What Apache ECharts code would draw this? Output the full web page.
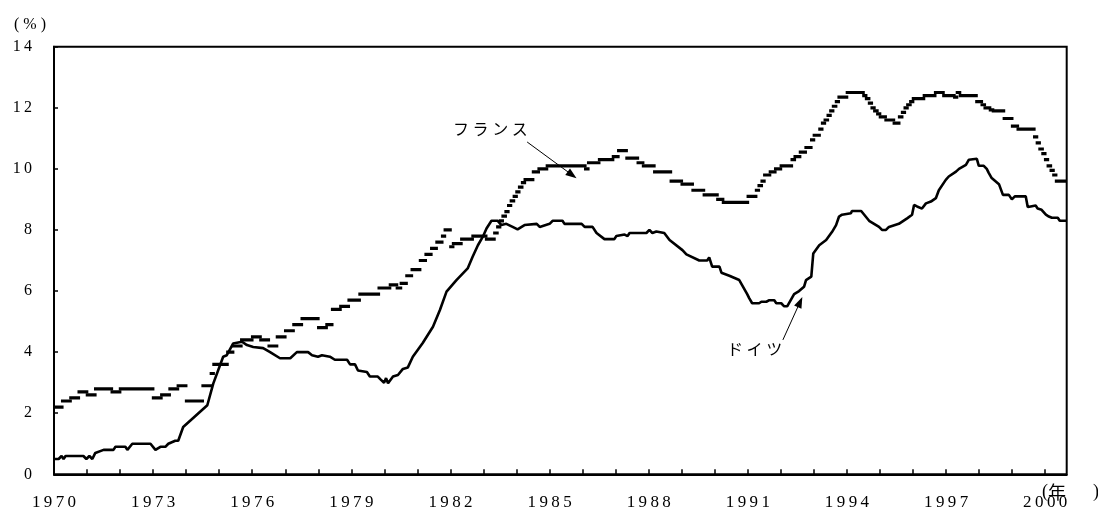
<!DOCTYPE html>
<html><head><meta charset="utf-8">
<script src="https://cdn.jsdelivr.net/npm/echarts@6/dist/echarts.min.js"></script>
<style>html,body{margin:0;padding:0;background:#fff}#c{width:1098px;height:511px}</style>
</head><body><div id="c"></div>
<script>
// ---- axis settings ----
const xMin = 1970, xMax = 2000.65;
const yMin = 0, yMax = 14, yStep = 2;
const labelEveryYears = 3;

// ---- Germany (ドイツ): solid line, [year, %] vertices ----
const germanyYears = [
 1970.00,1970.14,1970.23,1970.29,1970.35,1970.89,1970.98,1971.07,1971.16,1971.25,
 1971.50,1971.80,1971.86,1972.16,1972.22,1972.37,1972.92,1973.07,1973.22,1973.37,
 1973.46,1973.67,1973.76,1973.91,1974.64,1974.82,1975.12,1975.23,1975.42,1975.69,
 1975.84,1976.03,1976.33,1976.54,1976.84,1977.15,1977.35,1977.69,1977.81,1977.99,
 1978.11,1978.35,1978.50,1978.87,1978.96,1979.11,1979.20,1979.47,1979.56,1979.80,
 1979.89,1979.99,1980.05,1980.11,1980.26,1980.41,1980.56,1980.71,1980.86,1981.16,
 1981.47,1981.68,1981.88,1982.18,1982.52,1982.67,1982.83,1982.98,1983.09,1983.24,
 1983.43,1983.54,1983.69,1983.88,1984.03,1984.24,1984.61,1984.70,1985.00,1985.09,
 1985.39,1985.45,1985.97,1986.06,1986.30,1986.42,1986.66,1986.96,1987.02,1987.27,
 1987.36,1987.42,1987.93,1988.02,1988.11,1988.23,1988.47,1988.63,1989.02,1989.14,
 1989.53,1989.77,1989.83,1989.92,1990.14,1990.20,1990.44,1990.74,1990.98,1991.04,
 1991.13,1991.34,1991.41,1991.56,1991.65,1991.80,1991.86,1992.01,1992.10,1992.19,
 1992.40,1992.55,1992.70,1992.76,1992.92,1992.98,1993.16,1993.37,1993.55,1993.67,
 1993.76,1993.85,1994.12,1994.15,1994.43,1994.67,1994.97,1995.06,1995.18,1995.27,
 1995.57,1995.82,1995.97,1996.03,1996.12,1996.27,1996.39,1996.54,1996.69,1996.78,
 1996.99,1997.08,1997.30,1997.39,1997.60,1997.69,1997.93,1997.99,1998.14,1998.23,
 1998.29,1998.38,1998.60,1998.66,1998.72,1998.90,1998.99,1999.08,1999.41,1999.47,
 1999.56,1999.71,1999.77,1999.89,2000.02,2000.11,2000.20,2000.38,2000.44,2000.65
];
const germanyRates = [
 0.5,0.5,0.6,0.5,0.6,0.6,0.5,0.6,0.5,0.7,
 0.8,0.8,0.9,0.9,0.8,1.0,1.0,0.8,0.9,0.9,
 1.0,1.1,1.1,1.55,2.26,2.97,3.85,3.9,4.28,4.34,
 4.23,4.17,4.13,4.0,3.8,3.8,4.0,4.0,3.9,3.85,
 3.9,3.85,3.75,3.75,3.6,3.6,3.4,3.35,3.2,3.2,
 3.1,3.0,3.15,2.98,3.2,3.25,3.45,3.5,3.85,4.3,
 4.83,5.38,5.98,6.36,6.74,7.12,7.5,7.78,8.05,8.3,
 8.3,8.16,8.2,8.1,8.02,8.16,8.2,8.1,8.2,8.3,
 8.3,8.2,8.2,8.1,8.1,7.9,7.7,7.7,7.8,7.85,
 7.8,7.9,7.9,8.0,7.9,7.95,7.9,7.67,7.34,7.2,
 7.0,7.0,7.1,6.8,6.8,6.6,6.5,6.36,5.9,5.77,
 5.6,5.6,5.65,5.65,5.7,5.7,5.6,5.6,5.5,5.5,
 5.9,6.0,6.14,6.36,6.47,7.23,7.5,7.67,7.94,8.16,
 8.44,8.5,8.55,8.62,8.62,8.3,8.1,8.0,8.0,8.1,
 8.2,8.38,8.5,8.82,8.77,8.7,8.87,8.93,9.04,9.3,
 9.64,9.75,9.91,10.0,10.13,10.3,10.33,10.1,10.1,10.0,
 9.87,9.7,9.5,9.48,9.15,9.15,9.0,9.1,9.1,8.75,
 8.77,8.8,8.7,8.66,8.5,8.44,8.4,8.4,8.3,8.3
];

// ---- France (フランス): step levels, each level holds until the next start ----
const franceStartYears = [
 1970.00,1970.25,1970.50,1970.75,1971.00,1971.25,1971.75,1972.00,1973.00,1973.25,
 1973.50,1973.75,1974.00,1974.50,1974.75,1974.83,1975.25,1975.42,1975.67,1976.00,
 1976.25,1976.50,1976.75,1977.00,1977.25,1977.50,1978.00,1978.25,1978.42,1978.67,
 1978.92,1979.25,1979.83,1980.17,1980.38,1980.50,1980.67,1980.83,1981.08,1981.25,
 1981.42,1981.58,1981.75,1981.83,1982.00,1982.08,1982.33,1982.67,1983.08,1983.33,
 1983.42,1983.50,1983.58,1983.67,1983.75,1983.83,1983.92,1984.00,1984.08,1984.17,
 1984.25,1984.50,1984.67,1984.92,1986.08,1986.17,1986.50,1986.92,1987.08,1987.33,
 1987.67,1987.83,1988.17,1988.67,1989.00,1989.33,1989.67,1990.08,1990.25,1991.00,
 1991.25,1991.33,1991.42,1991.50,1991.67,1991.83,1992.00,1992.33,1992.42,1992.58,
 1992.75,1992.92,1993.00,1993.17,1993.25,1993.33,1993.42,1993.50,1993.58,1993.67,
 1993.75,1994.00,1994.50,1994.58,1994.67,1994.75,1994.83,1994.92,1995.00,1995.17,
 1995.42,1995.58,1995.67,1995.75,1995.83,1995.92,1996.00,1996.33,1996.67,1996.92,
 1997.25,1997.33,1997.42,1997.92,1998.08,1998.17,1998.33,1998.42,1998.75,1999.00,
 1999.17,1999.67,1999.75,1999.83,1999.92,2000.00,2000.08,2000.17,2000.25,2000.33
];
const franceRates = [
 2.2,2.4,2.5,2.7,2.6,2.8,2.7,2.8,2.5,2.6,
 2.8,2.9,2.4,2.9,3.3,3.6,4.0,4.2,4.4,4.5,
 4.4,4.2,4.5,4.7,4.9,5.1,4.8,4.9,5.4,5.5,
 5.7,5.9,6.1,6.2,6.1,6.25,6.5,6.7,7.0,7.2,
 7.4,7.6,7.8,8.0,7.45,7.55,7.7,7.8,7.7,7.9,
 8.1,8.3,8.45,8.6,8.8,8.95,9.1,9.25,9.4,9.55,
 9.65,9.9,10.0,10.1,10.0,10.2,10.3,10.4,10.6,10.35,
 10.2,10.1,9.9,9.6,9.5,9.3,9.15,9.0,8.9,9.1,
 9.3,9.45,9.6,9.8,9.9,10.0,10.1,10.3,10.4,10.55,
 10.7,10.95,11.1,11.3,11.5,11.6,11.75,11.9,12.05,12.2,
 12.35,12.5,12.4,12.3,12.15,12.0,11.9,11.8,11.7,11.6,
 11.5,11.7,11.85,12.0,12.1,12.2,12.3,12.4,12.5,12.4,
 12.35,12.5,12.4,12.2,12.1,12.0,11.93,11.9,11.65,11.4,
 11.3,11.05,10.85,10.65,10.5,10.3,10.1,9.95,9.8,9.6
];

// ---- annotations (data coordinates) ----
const franceArrow = [[1984.32, 10.88], [1985.68, 9.80]];
const germanyArrow = [[1992.06, 4.40], [1992.58, 5.64]];

const spaced = s => String(s).split('').join('\u2009');

const germanyData = germanyYears.map((x, i) => [x, germanyRates[i]]);
const franceData = franceStartYears.map((x, i) => [x, franceRates[i],
  i + 1 < franceStartYears.length ? franceStartYears[i + 1] : xMax]);

const chart = echarts.init(document.getElementById('c'), null, {renderer: 'canvas'});
chart.setOption({
  animation: false,
  backgroundColor: '#fff',
  grid: {left: 54, right: 31.3, top: 46.7, bottom: 36.7, show: true,
         outerBoundsMode: 'none', containLabel: false,
         borderColor: '#000', borderWidth: 2, backgroundColor: 'transparent'},
  xAxis: {
    type: 'value', min: xMin, max: xMax, interval: 1,
    axisLine: {show: true, lineStyle: {color: '#000', width: 2}},
    axisTick: {show: true, inside: true, length: 5, lineStyle: {color: '#000', width: 1.5}},
    splitLine: {show: false},
    axisLabel: {
      margin: 20, color: '#000', fontFamily: 'Liberation Serif', fontSize: 17,
      showMaxLabel: false,
      formatter: v => (Math.abs(v - Math.round(v)) < 1e-6 && (Math.round(v) - xMin) % labelEveryYears === 0) ? spaced(Math.round(v)) : ''
    }
  },
  yAxis: {
    type: 'value', min: yMin, max: yMax, interval: yStep,
    axisLine: {show: true, lineStyle: {color: '#000', width: 2}},
    axisTick: {show: true, inside: true, length: 4, lineStyle: {color: '#000', width: 1.5}},
    splitLine: {show: false},
    axisLabel: {margin: 22, color: '#000', fontFamily: 'Liberation Serif', fontSize: 16,
      formatter: v => spaced(v)}
  },
  series: [
    {
      name: 'ドイツ', type: 'line', data: germanyData, showSymbol: false,
      lineStyle: {color: '#000', width: 2.6}, z: 3,
      markLine: {
        silent: true, symbol: ['none', 'triangle'], symbolSize: [8, 11],
        lineStyle: {color: '#000', width: 1, type: 'solid'},
        label: {show: false},
        data: [
          [{coord: franceArrow[0]}, {coord: franceArrow[1]}],
          [{coord: germanyArrow[0]}, {coord: germanyArrow[1]}]
        ]
      }
    },
    {
      name: 'フランス', type: 'custom', data: franceData, clip: true,
      encode: {x: [0, 2], y: 1},
      renderItem: (params, api) => {
        const a = api.coord([api.value(0), api.value(1)]);
        const b = api.coord([api.value(2), api.value(1)]);
        const pad = 1.3;
        return {type: 'line', shape: {x1: a[0] - pad, y1: a[1], x2: b[0] + pad, y2: b[1]},
                style: {stroke: '#000', lineWidth: 3.2, lineCap: 'butt'}};
      },
      z: 3
    }
  ],
  graphic: [
    {type: 'text', left: 14, top: 17, style: {text: '( % )', font: '16px "Liberation Serif"', fill: '#000'}},
    {type: 'text', left: 1042, top: 483, style: {
      text: '{p|(}{k|\u5e74}{p|\u2003\u2002)}',
      rich: {p: {fontFamily: 'Liberation Serif', fontSize: 18, fill: '#000'},
             k: {fontFamily: 'Noto Sans CJK JP', fontSize: 18, fill: '#000'}}}},
    {type: 'text', left: 453, top: 121, style: {text: 'フ ラ ン ス', font: '16px "Noto Sans CJK JP"', fill: '#000'}},
    {type: 'text', left: 727, top: 341, style: {text: 'ド イ ツ', font: '16px "Noto Sans CJK JP"', fill: '#000'}}
  ]
});
</script></body></html>
